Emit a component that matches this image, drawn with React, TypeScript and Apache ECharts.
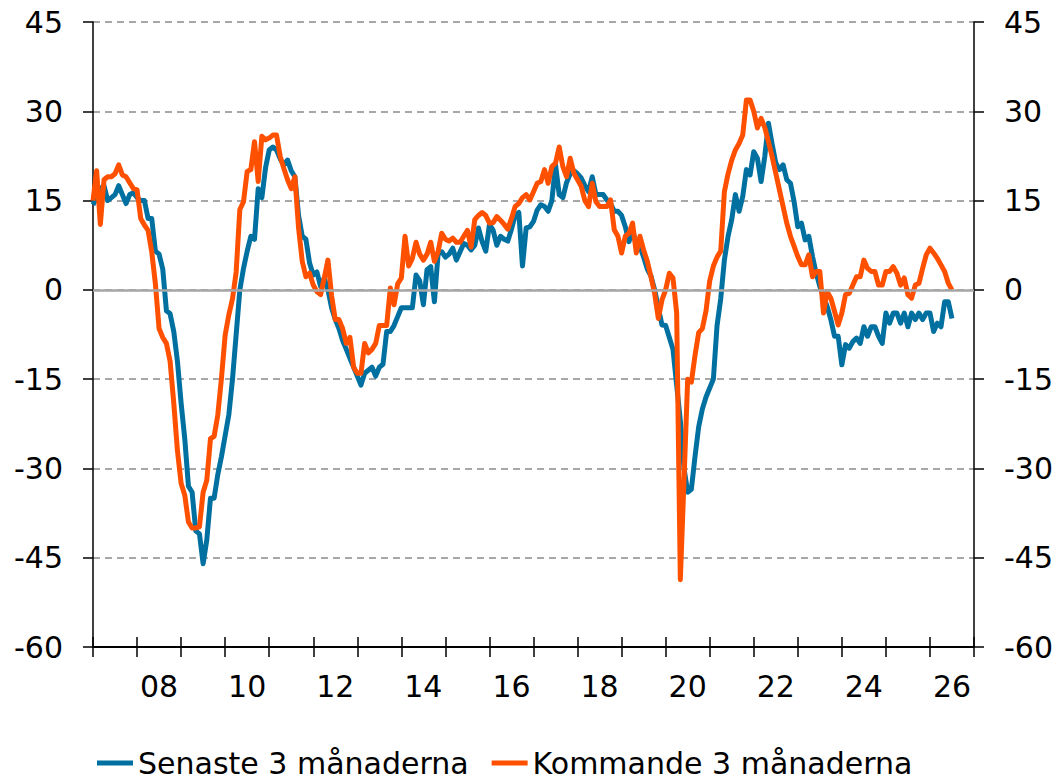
import React, { useEffect, useRef } from "react";
import * as echarts from "echarts";

const yearLabels = ["07","08","09","10","11","12","13","14","15","16","17","18","19","20","21","22","23","24","25","26"];
const yTicks = { min: -60, max: 45, interval: 15 };

// Monthly values from Jan 2007
const senaste = [
  14.3, 15.5, 17, 17.5, 15, 15.5, 16, 17.5, 16, 14.5,
  16, 16.3, 15.5, 15, 15, 12, 12, 6.5, 6, 3.5,
  -3.5, -4, -7, -12, -19, -25, -33, -34, -40.5, -41,
  -46, -42, -35, -35, -31, -28, -24.5, -21, -15, -7.5,
  0, 3.6, 6.5, 9, 8.5, 17, 15.5, 20.5, 23.5, 24,
  23.5, 22, 21, 21.8, 20, 19, 12.5, 9, 8.5, 4.5,
  2.5, 3, 0.6, 2, 0, -3, -5, -6.5, -8.5, -10,
  -11.5, -13, -14.5, -16, -14, -13.5, -13, -14.5, -13, -12.5,
  -7, -7, -6, -4.5, -3, -3, -3, -3, 2.5, 1.5,
  -2.5, 3.4, 3.9, -2, 6, 6.4, 5.5, 6, 7, 5,
  6.4, 7.8, 7.5, 6.7, 7.5, 10.4, 8.1, 6.5, 11, 10,
  7.5, 9, 8.5, 8.2, 10.2, 12.5, 13, 4, 10.4, 10.6,
  11.5, 13.4, 14.3, 14, 13.2, 15, 21, 16, 15.5, 18,
  19.5, 20, 19.5, 18.8, 17.5, 16.5, 19, 16, 16, 16,
  15.1, 14.5, 13.2, 13.2, 12.5, 10.6, 8.1, 10, 7.6, 7.3,
  5.5, 3.5, 2.3, 0, -3, -5.9, -6, -8, -10, -16,
  -22, -30, -34, -33.5, -28, -23, -20, -18, -16.5, -15,
  -6, -1.5, 5, 9, 11.8, 16, 13.2, 15.7, 20.2, 19.3,
  23.2, 22.1, 18.2, 22.4, 28, 24.5, 21.3, 20.2, 21, 18.5,
  17.9, 14.8, 10.6, 11.2, 8.4, 9, 5.6, 2.8, 0.6, -1.1,
  -2.8, -5, -7.8, -7.8, -12.6, -9.2, -9.8, -8.7, -8.1, -9,
  -6.2, -7.8, -6.2, -6.2, -7.8, -9, -3.9, -5.6, -3.9, -3.9,
  -5.6, -3.9, -6.2, -3.9, -5, -3.9, -5, -3.9, -3.9, -7,
  -5.6, -6.2, -2, -2, -4.8
];

const kommande = [
  15, 20, 11, 18.5, 19, 19, 19.5, 21, 19.3, 19,
  18, 17, 16.8, 12, 10.9, 10, 6.4, 1, -6.5, -8,
  -9, -12, -19, -27, -32.5, -34.5, -39, -40, -40, -39.8,
  -34, -32, -25, -24.6, -21, -14.8, -7.6, -4.2, -1.5, 3,
  13.5, 14.8, 19.9, 20.2, 24.9, 18.2, 25.8, 25.2, 25.5, 26,
  26, 22.4, 20.4, 18.5, 17, 19, 10.4, 4.8, 2.2, 2.8,
  0.8, -0.3, -0.8, 2, 5, -1, -5, -5, -6.5, -9,
  -8, -13, -14, -14, -9, -10.6, -10, -9, -6, -6,
  -6, 0.3, -2.5, 1, 2, 9, 4, 5.3, 8, 6,
  5, 6, 8, 4.8, 6.4, 9.5, 8.5, 8.2, 8.7, 8,
  8, 9, 10, 7.2, 11.8, 12.5, 13, 12.5, 11.2, 11.3,
  12.3, 11.7, 11, 10.2, 12, 14, 14.5, 15.5, 16, 15.1,
  16.5, 17.9, 18.2, 20.2, 17.9, 20.7, 21.3, 24, 20.7, 19,
  22.1, 19.6, 18.5, 17.4, 15, 14, 17.9, 14.8, 14, 14,
  14, 15.1, 10.1, 9, 6.2, 9, 9.5, 11.2, 6.2, 9,
  6.7, 4.8, 2.2, -0.6, -4.8, -1.7, 0, 2.8, 2, -3.9,
  -48.7, -32, -15, -15.5, -11, -7.2, -6.5, -3.5, 1.5, 4,
  5.5, 6.5, 16.5, 19.5, 21.8, 23.5, 24.6, 26, 31.9, 31.9,
  30, 27.2, 28.8, 27.3, 24.9, 22.4, 19.6, 16.8, 14, 11.2,
  9, 7.3, 5.6, 4.2, 4.2, 5.9, 2.2, 3.1, 3.1, -3.9,
  -0.3, -1.4, -3.6, -5.9, -3.9, -0.8, -0.6, 0.8, 2.2, 2.2,
  5, 3.6, 3.1, 3.1, 0.8, 0.8, 3.1, 3.1, 3.9, 2.8,
  0.8, 2, -0.8, -1.4, 0.8, 1.1, 3.6, 5.9, 7, 6.2,
  5.3, 4.2, 3.1, 1.1, 0
];

const seriesNames = ["Senaste 3 månaderna", "Kommande 3 månaderna"];
const seriesColors = ["#0070A0", "#FF5000"];

const FONT = "DejaVu Sans";

export default function App() {
  const ref = useRef<HTMLDivElement>(null);
  useEffect(() => {
    document.body.style.margin = "0";
    const chart = echarts.init(ref.current!, null, { renderer: "svg" });
    const toPairs = (arr: number[]) => arr.map((v, i) => [i, v]);
    const yAxisCommon = {
      type: "value",
      min: yTicks.min,
      max: yTicks.max,
      interval: yTicks.interval,
      axisLine: { show: true, onZero: false, lineStyle: { color: "#000", width: 1.5 } },
      axisTick: { show: true, inside: false, length: 10, lineStyle: { color: "#000", width: 1.5 } },
      axisLabel: { color: "#000", fontSize: 30, fontFamily: FONT, margin: 30 },
    };
    chart.setOption({
      animation: false,
      textStyle: { fontFamily: FONT },
      grid: { left: 93, right: 87, top: 22, bottom: 133, containLabel: false },
      legend: {
        data: seriesNames,
        icon: "rect",
        itemWidth: 36,
        itemHeight: 5,
        itemGap: 23,
        left: 97,
        top: 748,
        padding: 0,
        textStyle: { color: "#000", fontSize: 30, fontFamily: FONT },
      },
      xAxis: [
        {
          type: "category",
          data: yearLabels,
          position: "bottom",
          boundaryGap: true,
          axisLine: { show: true, onZero: false, lineStyle: { color: "#000", width: 2 } },
          axisTick: { show: true, inside: false, length: 10, interval: 0, lineStyle: { color: "#000", width: 1.5 } },
          axisLabel: {
            color: "#000",
            fontSize: 30,
            fontFamily: FONT,
            margin: 24,
            interval: (index: number) => index % 2 === 1,
          },
          splitLine: { show: false },
        },
        {
          type: "category",
          data: yearLabels,
          position: "bottom",
          boundaryGap: true,
          axisLine: { show: false, onZero: false },
          axisTick: { show: true, inside: true, length: 10, interval: 0, lineStyle: { color: "#000", width: 1.5 } },
          axisLabel: { show: false },
          splitLine: { show: false },
        },
        {
          type: "value",
          min: 0,
          max: yearLabels.length * 12,
          show: false,
          axisLine: { onZero: false },
          splitLine: { show: false },
        },
      ],
      yAxis: [
        {
          ...yAxisCommon,
          position: "left",
          splitLine: { show: true, lineStyle: { color: "#8a8a8a", width: 1.5, type: [7, 5] } },
        },
        {
          ...yAxisCommon,
          position: "right",
          splitLine: { show: false },
        },
      ],
      series: [
        {
          name: "zero",
          type: "line",
          xAxisIndex: 2,
          yAxisIndex: 0,
          data: [],
          z: 1,
          silent: true,
          markLine: {
            silent: true,
            symbol: ["none", "none"],
            label: { show: false },
            lineStyle: { color: "#a6a6a6", width: 2.5, type: "solid" },
            data: [{ yAxis: 0 }],
          },
        },
        {
          name: seriesNames[0],
          type: "line",
          xAxisIndex: 2,
          yAxisIndex: 0,
          data: toPairs(senaste),
          showSymbol: false,
          symbol: "none",
          z: 3,
          color: seriesColors[0],
          lineStyle: { color: seriesColors[0], width: 5, join: "round" },
        },
        {
          name: seriesNames[1],
          type: "line",
          xAxisIndex: 2,
          yAxisIndex: 0,
          data: toPairs(kommande),
          showSymbol: false,
          symbol: "none",
          z: 4,
          color: seriesColors[1],
          lineStyle: { color: seriesColors[1], width: 5, join: "round" },
        },
      ],
    });
    return () => chart.dispose();
  }, []);
  return <div ref={ref} style={{ width: 1061, height: 780 }} />;
}
